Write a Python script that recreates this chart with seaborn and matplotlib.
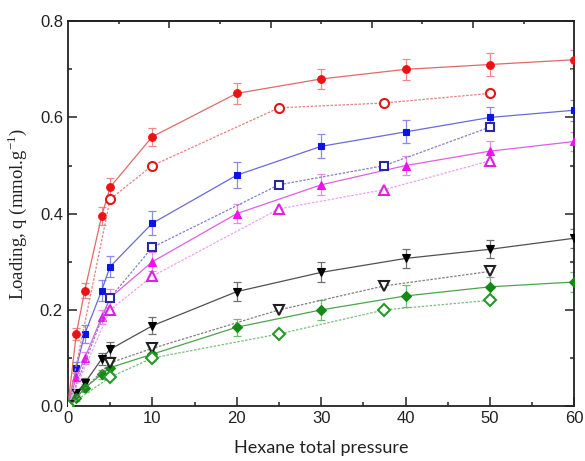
# Hexane adsorption isotherms (loading vs total pressure)

import numpy as np
import pandas as pd
import seaborn as sns
import matplotlib.pyplot as plt
from matplotlib.ticker import MultipleLocator

# Filled symbols (solid lines, with error bars)
p_full = [0, 1, 2, 4, 5, 10, 20, 30, 40, 50, 60]
red_q = [0.0, 0.15, 0.24, 0.395, 0.455, 0.56, 0.65, 0.68, 0.70, 0.71, 0.72]
red_err = [0.0, 0.012, 0.015, 0.018, 0.02, 0.019, 0.022, 0.02, 0.022, 0.024, 0.02]
blue_q = [0.0, 0.08, 0.15, 0.24, 0.29, 0.38, 0.48, 0.54, 0.57, 0.60, 0.615]
blue_err = [0.0, 0.012, 0.018, 0.022, 0.022, 0.025, 0.027, 0.025, 0.024, 0.022, 0.022]
mag_q = [0.0, 0.06, 0.10, 0.185, 0.225, 0.30, 0.40, 0.46, 0.50, 0.53, 0.55]
mag_err = [0.0, 0.008, 0.012, 0.015, 0.018, 0.02, 0.02, 0.022, 0.02, 0.02, 0.02]
blk_q = [0.0, 0.028, 0.048, 0.098, 0.118, 0.167, 0.238, 0.278, 0.307, 0.326, 0.349]
blk_err = [0.0, 0.008, 0.01, 0.012, 0.015, 0.018, 0.02, 0.021, 0.019, 0.019, 0.02]
grn_q = [0.0, 0.017, 0.038, 0.066, 0.08, 0.108, 0.164, 0.20, 0.229, 0.248, 0.258]
grn_err = [0.0, 0.006, 0.008, 0.01, 0.012, 0.015, 0.018, 0.02, 0.022, 0.02, 0.02]

# Open symbols (dotted lines)
p_open = [0, 5, 10, 25, 37.5, 50]
red_o = [0.0, 0.43, 0.50, 0.62, 0.63, 0.65]
blue_o = [0.0, 0.225, 0.33, 0.46, 0.50, 0.58]
mag_o = [0.0, 0.20, 0.27, 0.41, 0.45, 0.51]
blk_o = [0.0, 0.09, 0.12, 0.20, 0.25, 0.28]
grn_o = [0.0, 0.06, 0.10, 0.15, 0.20, 0.22]

sns.set_theme(style="ticks")
plt.rcParams["font.family"] = ["Liberation Sans", "DejaVu Sans"]

fig = plt.figure(figsize=(5.85, 4.61), dpi=100)
ax = fig.add_axes([0.116, 0.119, 0.866, 0.835])

filled = [
    (red_q, red_err, "o", "#ee1111", "#e06a6a", "#f08a8a", 5.5),
    (blue_q, blue_err, "s", "#0a14e6", "#6a6ad8", "#8c8ce6", 5.0),
    (mag_q, mag_err, "^", "#f010f0", "#e060e0", "#ee88ee", 5.5),
    (blk_q, blk_err, "v", "#000000", "#505050", "#707070", 6.0),
    (grn_q, grn_err, "D", "#138a13", "#4aa64a", "#6cbf6c", 5.0),
]
opened = [
    (red_o, "o", "#e01818", "#e88080", 6.5),
    (blue_o, "s", "#2828a8", "#8080d0", 6.0),
    (mag_o, "^", "#e020e0", "#f0a0f0", 7.0),
    (blk_o, "v", "#202020", "#808080", 7.0),
    (grn_o, "D", "#2a962a", "#7cc07c", 6.0),
]

for q, err, mk, col, lcol, ecol, ms in filled:
    ax.errorbar(p_full, q, yerr=err, fmt="none", ecolor=ecol, elinewidth=0.9,
                capsize=3, capthick=0.9, zorder=2)
    df = pd.DataFrame({"p": p_full, "q": q})
    sns.lineplot(data=df, x="p", y="q", ax=ax, color=lcol, lw=0.9,
                 marker=mk, markersize=ms, markerfacecolor=col,
                 markeredgecolor=col, markeredgewidth=0.8, zorder=3)

for q, mk, col, lcol, ms in opened:
    df = pd.DataFrame({"p": p_open, "q": q})
    sns.lineplot(data=df, x="p", y="q", ax=ax, color=lcol, lw=0.9,
                 linestyle=(0, (2, 1.2)), marker=mk, markersize=ms,
                 markerfacecolor="white", markeredgecolor=col,
                 markeredgewidth=1.5, zorder=3)

ax.set_xlim(0, 60)
ax.set_ylim(0, 0.8)
ax.xaxis.set_major_locator(MultipleLocator(10))
ax.xaxis.set_minor_locator(MultipleLocator(5))
ax.yaxis.set_major_locator(MultipleLocator(0.2))
ax.yaxis.set_minor_locator(MultipleLocator(0.1))
ax.yaxis.set_major_formatter(plt.FormatStrFormatter("%.1f"))

ax.tick_params(which="both", direction="in", top=False, right=True,
               colors="#222222", labelsize=12, width=1.1)
ax.tick_params(which="major", length=6.5)
ax.tick_params(which="minor", length=3.2)
for s in ax.spines.values():
    s.set_linewidth(1.3)
    s.set_color("#222222")

top = ax.secondary_xaxis("top")
top.set_xticks([12, 24, 36, 48])
top.set_xticks([6, 18, 30, 42, 54], minor=True)
top.tick_params(which="both", direction="in", labeltop=False, width=1.1,
                colors="#222222")
top.tick_params(which="major", length=5)
top.tick_params(which="minor", length=2.5)

ax.set_xlabel("Hexane total pressure", fontsize=13, family=["Lato", "DejaVu Sans"],
              color="#222222", labelpad=10)
ax.set_ylabel("Loading, q (mmol.g$^{\\mathregular{-1}}$)", fontsize=13.5,
              family=["Liberation Serif", "DejaVu Serif"], color="#222222", labelpad=8)

plt.savefig("out.png", dpi=100)
